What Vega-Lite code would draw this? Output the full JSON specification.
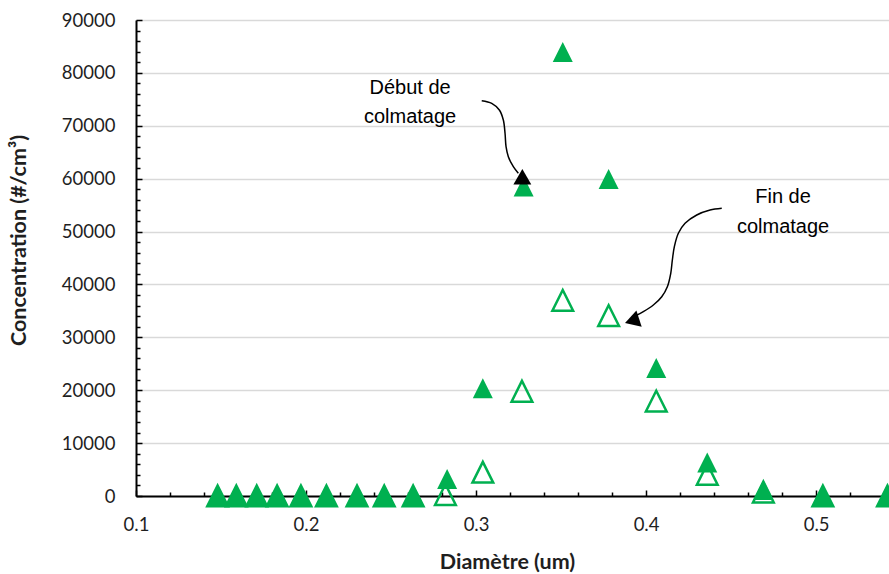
{
  "$schema": "https://vega.github.io/schema/vega-lite/v6.json",
  "autosize": {"type": "none"},
  "padding": {"left": 136, "top": 20, "right": 0, "bottom": 78},
  "width": 753,
  "height": 476,
  "background": "white",
  "config": {"view": {"stroke": null}, "font": "Lato"},
  "datasets": {
    "pts": [
      {"d": 0.148, "c": 0, "s": "Fin"},
      {"d": 0.159, "c": 0, "s": "Fin"},
      {"d": 0.171, "c": 0, "s": "Fin"},
      {"d": 0.183, "c": 0, "s": "Fin"},
      {"d": 0.197, "c": 0, "s": "Fin"},
      {"d": 0.212, "c": 0, "s": "Fin"},
      {"d": 0.230, "c": 0, "s": "Fin"},
      {"d": 0.246, "c": 0, "s": "Fin"},
      {"d": 0.263, "c": 0, "s": "Fin"},
      {"d": 0.282, "c": 250, "s": "Fin"},
      {"d": 0.304, "c": 4500, "s": "Fin"},
      {"d": 0.327, "c": 19800, "s": "Fin"},
      {"d": 0.351, "c": 37000, "s": "Fin"},
      {"d": 0.378, "c": 34100, "s": "Fin"},
      {"d": 0.406, "c": 17950, "s": "Fin"},
      {"d": 0.436, "c": 4100, "s": "Fin"},
      {"d": 0.469, "c": 750, "s": "Fin"},
      {"d": 0.504, "c": 0, "s": "Fin"},
      {"d": 0.542, "c": 0, "s": "Fin"},
      {"d": 0.148, "c": 0, "s": "Début"},
      {"d": 0.159, "c": 0, "s": "Début"},
      {"d": 0.171, "c": 0, "s": "Début"},
      {"d": 0.183, "c": 0, "s": "Début"},
      {"d": 0.197, "c": 0, "s": "Début"},
      {"d": 0.212, "c": 0, "s": "Début"},
      {"d": 0.230, "c": 0, "s": "Début"},
      {"d": 0.246, "c": 0, "s": "Début"},
      {"d": 0.263, "c": 0, "s": "Début"},
      {"d": 0.283, "c": 3200, "s": "Début"},
      {"d": 0.304, "c": 20350, "s": "Début"},
      {"d": 0.328, "c": 58500, "s": "Début"},
      {"d": 0.351, "c": 83950, "s": "Début"},
      {"d": 0.378, "c": 59950, "s": "Début"},
      {"d": 0.406, "c": 24200, "s": "Début"},
      {"d": 0.436, "c": 6350, "s": "Début"},
      {"d": 0.469, "c": 1150, "s": "Début"},
      {"d": 0.504, "c": 0, "s": "Début"},
      {"d": 0.542, "c": 0, "s": "Début"}
    ],
    "arrows": [
      {"a": 1, "o": 1, "d": 0.30335, "c": 74740},
      {"a": 1, "o": 2, "d": 0.30924, "c": 74250},
      {"a": 1, "o": 3, "d": 0.31371, "c": 72980},
      {"a": 1, "o": 4, "d": 0.31606, "c": 71090},
      {"a": 1, "o": 5, "d": 0.31706, "c": 68580},
      {"a": 1, "o": 6, "d": 0.31765, "c": 66040},
      {"a": 1, "o": 7, "d": 0.31900, "c": 64150},
      {"a": 1, "o": 8, "d": 0.32194, "c": 62260},
      {"a": 1, "o": 9, "d": 0.32488, "c": 61010},
      {"a": 2, "o": 1, "d": 0.44453, "c": 54400},
      {"a": 2, "o": 2, "d": 0.43765, "c": 54070},
      {"a": 2, "o": 3, "d": 0.42982, "c": 53130},
      {"a": 2, "o": 4, "d": 0.42294, "c": 51560},
      {"a": 2, "o": 5, "d": 0.41900, "c": 49670},
      {"a": 2, "o": 6, "d": 0.41665, "c": 47140},
      {"a": 2, "o": 7, "d": 0.41547, "c": 44620},
      {"a": 2, "o": 8, "d": 0.41453, "c": 42110},
      {"a": 2, "o": 9, "d": 0.41253, "c": 39570},
      {"a": 2, "o": 10, "d": 0.40924, "c": 37680},
      {"a": 2, "o": 11, "d": 0.40430, "c": 36110},
      {"a": 2, "o": 12, "d": 0.39841, "c": 34850},
      {"a": 2, "o": 13, "d": 0.39353, "c": 34030}
    ],
    "heads": [
      {"a": 1, "d": 0.32724, "c": 60370},
      {"a": 2, "d": 0.39176, "c": 33120}
    ],
    "labels": [
      {"t": "Début de", "d": 0.2612, "c": 77140},
      {"t": "colmatage", "d": 0.2612, "c": 71660},
      {"t": "Fin de", "d": 0.4806, "c": 56440},
      {"t": "colmatage", "d": 0.4806, "c": 50770}
    ]
  },
  "resolve": {"axis": {"x": "independent", "y": "independent"}},
  "layer": [
    {
      "data": {"name": "pts"},
      "mark": {"type": "point", "opacity": 0},
      "encoding": {
        "x": {"field": "d", "type": "quantitative",
          "scale": {"domain": [0.1, 0.5429], "nice": false, "zero": false},
          "axis": {"orient": "bottom", "values": [0.12,0.14,0.16,0.18,0.22,0.24,0.26,0.28,0.32,0.34,0.36,0.38,0.42,0.44,0.46,0.48,0.52,0.54],
            "labels": false, "domain": false, "grid": false, "title": null, "tickSize": -4, "tickWidth": 1.5, "tickColor": "#000", "zindex": 0}},
        "y": {"field": "c", "type": "quantitative",
          "scale": {"domain": [0, 90000], "nice": false},
          "axis": {"orient": "left", "values": [2000,4000,6000,8000,12000,14000,16000,18000,22000,24000,26000,28000,32000,34000,36000,38000,42000,44000,46000,48000,52000,54000,56000,58000,62000,64000,66000,68000,72000,74000,76000,78000,82000,84000,86000,88000],
            "labels": false, "domain": false, "grid": false, "title": null, "tickSize": -4, "tickWidth": 1.5, "tickColor": "#000", "zindex": 0}}
      }
    },
    {
      "data": {"name": "pts"},
      "transform": [{"filter": "datum.s === 'Fin'"}],
      "mark": {"type": "point", "shape": "M0,-1L1,1L-1,1Z", "filled": false, "stroke": "#00B050", "strokeWidth": 2.5, "strokeJoin": "miter", "size": 430, "opacity": 1},
      "encoding": {
        "x": {"field": "d", "type": "quantitative",
          "axis": {"orient": "bottom", "values": [0.1,0.2,0.3,0.4,0.5], "format": ".1f", "title": "Diamètre (um)",
            "labelFont": "Lato", "labelFontSize": 18.5, "labelColor": "#1f1f1f", "labelPadding": 25, "labelFlush": false, "labelOverlap": false,
            "titleFont": "Lato", "titleFontSize": 21.5, "titleFontWeight": "bold", "titleColor": "#1f1f1f",
            "titleX": 371, "titleY": 66, "titleBaseline": "middle",
            "domainColor": "#000", "domainWidth": 2, "tickSize": -6, "tickWidth": 1.5, "tickColor": "#000", "grid": false, "zindex": 0}},
        "y": {"field": "c", "type": "quantitative",
          "axis": {"orient": "left", "values": [0,10000,20000,30000,40000,50000,60000,70000,80000,90000], "format": "d", "title": "Concentration (#/cm³)",
            "labelFont": "Lato", "labelFontSize": 18.5, "labelColor": "#1f1f1f", "labelPadding": 27, "labelFlush": false, "labelOverlap": false,
            "titleFont": "Lato", "titleFontSize": 21.5, "titleFontWeight": "bold", "titleColor": "#1f1f1f",
            "titleX": -117, "titleY": 220, "titleBaseline": "middle", "titleAngle": -90,
            "domainColor": "#000", "domainWidth": 2, "tickSize": -6, "tickWidth": 1.5, "tickColor": "#000",
            "grid": true, "gridColor": "#d9d9d9", "gridWidth": 1.5, "zindex": 0}}
      }
    },
    {
      "data": {"name": "pts"},
      "transform": [{"filter": "datum.s === 'Début'"}],
      "mark": {"type": "point", "shape": "M0,-1L1,1L-1,1Z", "filled": true, "color": "#00B050", "size": 400, "opacity": 1},
      "encoding": {
        "x": {"field": "d", "type": "quantitative", "axis": null},
        "y": {"field": "c", "type": "quantitative", "axis": null}
      }
    },
    {
      "data": {"name": "arrows"},
      "mark": {"type": "line", "color": "#000", "strokeWidth": 1.5, "interpolate": "catmull-rom"},
      "encoding": {
        "x": {"field": "d", "type": "quantitative", "axis": null},
        "y": {"field": "c", "type": "quantitative", "axis": null},
        "detail": {"field": "a"},
        "order": {"field": "o", "type": "quantitative"}
      }
    },
    {
      "data": {"name": "heads"},
      "transform": [{"filter": "datum.a === 1"}],
      "mark": {"type": "point", "shape": "triangle-up", "filled": true, "color": "#000", "size": 320, "opacity": 1},
      "encoding": {
        "x": {"field": "d", "type": "quantitative", "axis": null},
        "y": {"field": "c", "type": "quantitative", "axis": null}
      }
    },
    {
      "data": {"name": "heads"},
      "transform": [{"filter": "datum.a === 2"}],
      "mark": {"type": "point", "shape": "triangle-up", "filled": true, "color": "#000", "size": 290, "angle": 252, "opacity": 1},
      "encoding": {
        "x": {"field": "d", "type": "quantitative", "axis": null},
        "y": {"field": "c", "type": "quantitative", "axis": null}
      }
    },
    {
      "data": {"name": "labels"},
      "mark": {"type": "text", "font": "Liberation Sans", "fontSize": 20, "color": "#000", "align": "center", "baseline": "middle"},
      "encoding": {
        "x": {"field": "d", "type": "quantitative", "axis": null},
        "y": {"field": "c", "type": "quantitative", "axis": null},
        "text": {"field": "t"}
      }
    }
  ]
}
